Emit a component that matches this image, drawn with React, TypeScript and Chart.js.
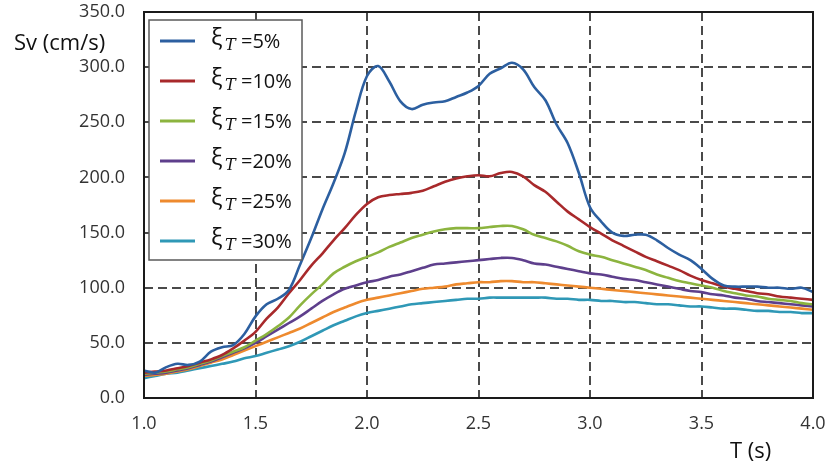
import React, { useEffect, useRef } from "react";
import { Chart, registerables } from "chart.js";

Chart.register(...registerables);

const T = [
  1.0, 1.05, 1.1, 1.15, 1.2, 1.25, 1.3, 1.35, 1.4, 1.45, 1.5, 1.55, 1.6, 1.65, 1.7, 1.75, 1.8, 1.85, 1.9, 1.95,
  2.0, 2.05, 2.1, 2.15, 2.2, 2.25, 2.3, 2.35, 2.4, 2.45, 2.5, 2.55, 2.6, 2.65, 2.7, 2.75, 2.8, 2.85, 2.9, 2.95,
  3.0, 3.05, 3.1, 3.15, 3.2, 3.25, 3.3, 3.35, 3.4, 3.45, 3.5, 3.55, 3.6, 3.65, 3.7, 3.75, 3.8, 3.85, 3.9, 3.95, 4.0,
];

const xi5 = [
  25, 23, 28, 31, 30, 33, 42, 46, 48, 58, 74, 85, 90, 98, 121, 145, 171, 195, 222, 260,
  292, 301, 287, 269, 262, 266, 268, 269, 273, 277, 283, 294, 299, 304, 298, 282, 270, 248, 231, 204,
  173, 160, 150, 147, 148, 148, 143, 136, 130, 125, 117, 108, 102, 101, 101, 101, 100, 100, 99, 100, 96,
];
const xi10 = [
  23, 24, 25, 27, 29, 32, 35, 39, 45, 52, 60, 72, 82, 95, 107, 120, 131, 143, 154, 166,
  176, 182, 184, 185, 186, 188, 192, 196, 199, 201, 202, 201, 204, 205, 201, 193, 187, 178, 169, 162,
  155, 149, 143, 138, 133, 128, 124, 120, 116, 111, 107, 104, 101, 99, 97, 95, 94, 92, 91, 90, 89,
];
const xi15 = [
  22, 23, 24, 26, 28, 31, 34, 38, 42, 46, 52, 58, 65, 73, 84, 94, 103, 113, 119, 124,
  128, 132, 137, 141, 145, 148, 151, 153, 154, 154, 154, 155, 156, 156, 153, 148, 145, 142, 138, 133,
  130, 128, 125, 122, 119, 116, 112, 109, 106, 104, 102, 100, 97, 95, 93, 92, 90, 89, 88, 86, 85,
];
const xi20 = [
  21, 22, 23, 25, 27, 30, 33, 37, 41, 45, 50, 56, 62, 68, 74, 81, 88, 94, 99, 102,
  105, 107, 110, 112, 115, 118, 121, 122, 123, 124, 125, 126, 127, 127, 125, 122, 121, 119, 117, 115,
  113, 112, 110, 108, 107, 105, 103, 101, 99, 97, 96, 94, 93, 91, 90, 88, 87, 86, 85, 84, 83,
];
const xi25 = [
  20, 21, 22, 24, 26, 29, 32, 35, 39, 43, 47, 51, 55, 59, 63, 68, 73, 78, 82, 86,
  89, 91, 93, 95, 97, 99, 100, 101, 103, 104, 105, 105, 106, 106, 105, 105, 104, 103, 102, 101,
  100, 99, 98, 97, 96, 95, 94, 93, 92, 91, 90, 89, 88, 87, 86, 85, 84, 83, 82, 81, 80,
];
const xi30 = [
  18, 20, 22, 23, 25, 27, 29, 31, 33, 36, 38, 41, 44, 47, 51, 56, 61, 66, 70, 74,
  77, 79, 81, 83, 85, 86, 87, 88, 89, 90, 90, 91, 91, 91, 91, 91, 91, 90, 90, 89,
  89, 88, 88, 87, 87, 86, 85, 85, 84, 83, 83, 82, 81, 81, 80, 79, 79, 78, 78, 77, 77,
];

const seriesLabels = ["=5%", "=10%", "=15%", "=20%", "=25%", "=30%"];
const seriesData = [xi5, xi10, xi15, xi20, xi25, xi30];
const seriesColors = ["#2C5FA0", "#A8292B", "#8CB43F", "#5E3F8C", "#EE8A2E", "#2F98B6"];

const yTitle = "Sv (cm/s)";
const xTitle = "T (s)";

const FONT = "'Open Sans', 'Liberation Sans', sans-serif";

const overlayPlugin = {
  id: "overlay",
  afterDraw(chart: any) {
    const ctx = chart.ctx;
    const a = chart.chartArea;
    ctx.save();
    ctx.strokeStyle = "#1a1a1a";
    ctx.lineWidth = 2;
    ctx.setLineDash([]);
    ctx.strokeRect(a.left, a.top, a.right - a.left, a.bottom - a.top);

    ctx.fillStyle = "#111";
    ctx.font = `22px ${FONT}`;
    ctx.textBaseline = "middle";
    ctx.textAlign = "left";
    ctx.fillText(yTitle, 14, 44);
    ctx.fillText(xTitle, 730, 452);

    const lx = 149, ly = 20, lw = 153, lh = 240;
    ctx.fillStyle = "#ffffff";
    ctx.fillRect(lx, ly, lw, lh);
    ctx.strokeStyle = "#5a5a5a";
    ctx.lineWidth = 1.5;
    ctx.strokeRect(lx, ly, lw, lh);
    seriesLabels.forEach((lab, i) => {
      const cy = 41 + i * 40;
      ctx.strokeStyle = seriesColors[i];
      ctx.lineWidth = 3;
      ctx.beginPath();
      ctx.moveTo(160, cy);
      ctx.lineTo(195, cy);
      ctx.stroke();
      ctx.fillStyle = "#111";
      ctx.textBaseline = "alphabetic";
      ctx.font = `24px ${FONT}`;
      ctx.fillText("ξ", 211, cy + 4);
      ctx.font = `italic 16px 'DejaVu Serif', 'Liberation Serif', serif`;
      ctx.fillText("T", 225, cy + 9);
      ctx.font = `20px ${FONT}`;
      ctx.fillText(lab, 241, cy + 7);
    });
    ctx.restore();
  },
};

export default function App() {
  const ref = useRef<HTMLCanvasElement>(null);
  useEffect(() => {
    if (!ref.current) return;
    const chart = new Chart(ref.current, {
      type: "line",
      data: {
        datasets: seriesData.map((arr, i) => ({
          label: seriesLabels[i],
          data: arr.map((v, j) => ({ x: T[j], y: v })),
          borderColor: seriesColors[i],
          backgroundColor: seriesColors[i],
          borderWidth: 2.6,
          pointRadius: 0,
          tension: 0.35,
          fill: false,
        })),
      },
      options: {
        responsive: false,
        animation: false,
        layout: { padding: { top: 0, right: 0, bottom: 0, left: 0 } },
        plugins: { legend: { display: false }, tooltip: { enabled: false } },
        scales: {
          x: {
            type: "linear",
            min: 1,
            max: 4,
            afterFit: (s: any) => {
              s.height = 68;
              s.paddingRight = 14;
            },
            ticks: {
              stepSize: 0.5,
              padding: 15,
              color: "#333",
              font: { family: FONT, size: 18 },
              callback: (v: any) => Number(v).toFixed(1),
            },
            grid: { color: "#4a4a4a", lineWidth: 2, drawTicks: false },
            border: { display: false, dash: [9, 5] },
          },
          y: {
            min: 0,
            max: 350,
            afterFit: (s: any) => {
              s.width = 144;
              s.paddingTop = 12;
            },
            ticks: {
              stepSize: 50,
              padding: 19,
              color: "#333",
              font: { family: FONT, size: 18 },
              callback: (v: any) => Number(v).toFixed(1),
            },
            grid: { color: "#4a4a4a", lineWidth: 2, drawTicks: false },
            border: { display: false, dash: [9, 5] },
          },
        },
      },
      plugins: [overlayPlugin],
    });
    return () => chart.destroy();
  }, []);
  return (
    <div style={{ position: "fixed", left: 0, top: 0, width: 827, height: 466, background: "#fff" }}>
      <canvas ref={ref} width={827} height={466} />
    </div>
  );
}
